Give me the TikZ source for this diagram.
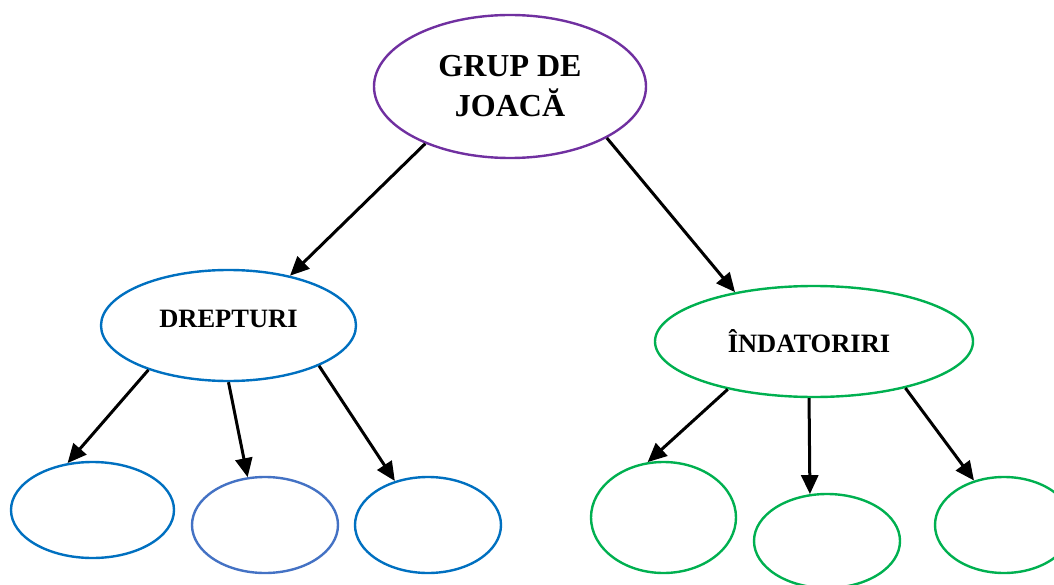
\documentclass[tikz,border=0pt]{standalone}
\usepackage{fontspec}
\setmainfont{Liberation Serif}
\usetikzlibrary{arrows.meta, shapes.geometric}

\definecolor{topviolet}{HTML}{7030A0}
\definecolor{leftblue}{HTML}{0070C0}
\definecolor{softblue}{HTML}{4472C4}
\definecolor{rightgreen}{HTML}{00B050}

\begin{document}
\begin{tikzpicture}[
    x=1pt, y=-1pt,
    oval/.style={draw, ellipse, inner sep=0pt, line width=2.4pt, align=center,
                 font=\bfseries},
    arr/.style={-{Triangle[length=19pt, width=17pt]}, line width=3pt},
]
    \useasboundingbox (0,0) rectangle (1054,585);

    %==================== ROOT ====================
    \node[oval, draw=topviolet, minimum width=272pt, minimum height=143pt,
          font=\bfseries\fontsize{32}{40}\selectfont] (grup) at (510,86.5)
        {GRUP DE\\JOAC\u{A}};

    %==================== SECOND LEVEL ====================
    \node[oval, draw=leftblue, minimum width=255pt, minimum height=111pt,
          font=\bfseries\fontsize{26.5}{30}\selectfont] (drept) at (228.5,325.5)
        {\raisebox{14pt}{DREPTURI}};
    \node[oval, draw=rightgreen, minimum width=318pt, minimum height=111pt,
          font=\bfseries\fontsize{26.5}{30}\selectfont] (indat) at (814,341.5)
        {ÎNDATORIRI\hspace{10pt}};

    \draw[arr] (grup.214) -- (drept.39);
    \draw[arr] (grup.-28) -- (indat.148.5);

    %==================== LEAVES (left) ====================
    \node[oval, draw=leftblue, minimum width=163pt, minimum height=96pt] (dA) at (92.5,510) {};
    \node[oval, draw=softblue, minimum width=146pt, minimum height=96pt] (dB) at (265,525) {};
    \node[oval, draw=leftblue, minimum width=146pt, minimum height=96pt] (dC) at (428,525) {};

    \draw[arr] (drept.209.5) -- (dA.118);
    \draw[arr] (drept.270) -- (dB.110.6);
    \draw[arr] (drept.-24) -- (dC.127);

    %==================== LEAVES (right) ====================
    \node[oval, draw=rightgreen, minimum width=145pt, minimum height=111pt] (iA) at (663.5,517.5) {};
    \node[oval, draw=rightgreen, minimum width=146pt, minimum height=94pt] (iB) at (827,541) {};
    \node[oval, draw=rightgreen, minimum width=138pt, minimum height=96pt] (iC) at (1004,525) {};

    \draw[arr] (indat.209) -- (iA.106);
    \draw[arr] (indat.265) -- (iB.110.6);
    \draw[arr] (indat.-27.5) -- (iC.124);

\end{tikzpicture}
\end{document}
